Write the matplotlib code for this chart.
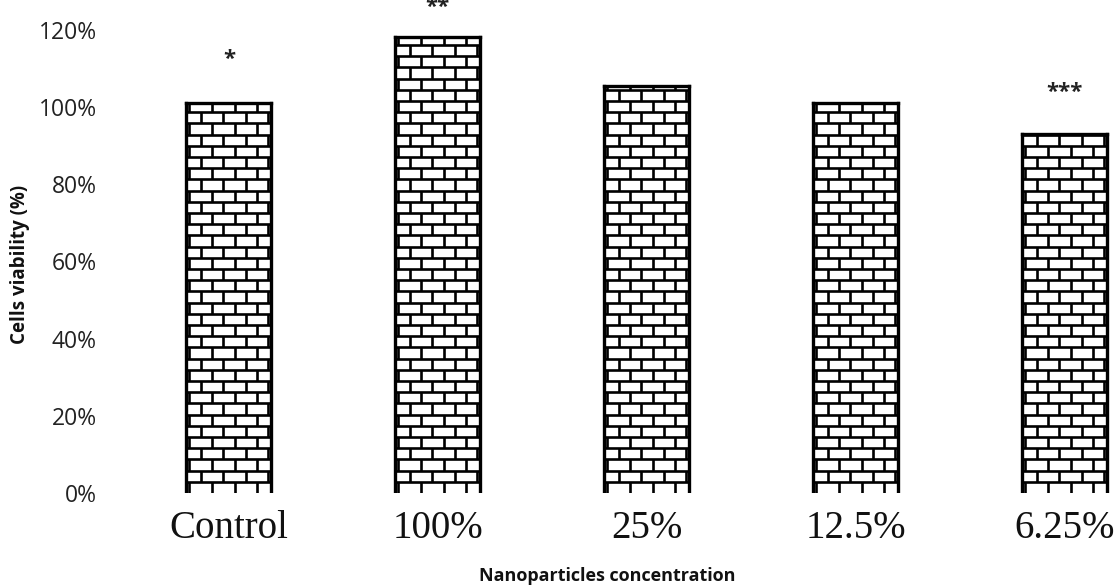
import numpy as np
import matplotlib.pyplot as plt
from matplotlib.collections import LineCollection
from matplotlib.ticker import PercentFormatter

# %% data
groups = ['Control', '100%', '25%', '12.5%', '6.25%']
viability = [101, 118, 105.5, 101, 93]
stars = ['*', '**', '', '', '***']
star_level = [113, 126.5, 0, 0, 104.5]

# %% figure
W, H = 1118, 587
fig = plt.figure(figsize=(W / 100, H / 100), dpi=100)
ax = fig.add_axes([110 / W, 94 / H, 1008 / W, 493 / H])
ax.set_xlim(-0.569, 4.254)
ax.set_ylim(0, 127.7)

x = np.arange(len(groups))
bw = 0.407
bars = ax.bar(x, viability, width=bw, color='white', edgecolor='none')

# brick pattern, sizes in pixels converted to data units
px_x = 4.823 / 1008
px_y = 127.7 / 493
brick_w, brick_h = 22.6 * px_x, 11.2 * px_y
for b in bars:
    x0, x1 = b.get_x(), b.get_x() + b.get_width()
    top = b.get_height()
    segs = []
    k = 0
    while k * brick_h < top:
        y0 = k * brick_h
        y1 = min(y0 + brick_h, top)
        if k > 0:
            segs.append([(x0, y0), (x1, y0)])
        off = 3 * px_x + (brick_w / 2 if k % 2 else 0)
        xv = x0 + off
        while xv < x1:
            segs.append([(xv, y0), (xv, y1)])
            xv += brick_w
        k += 1
    lc = LineCollection(segs, colors='black', linewidths=1.9)
    lc.set_clip_path(b)
    ax.add_collection(lc)
    edges = [[(x0, 0), (x0, top)], [(x1, 0), (x1, top)], [(x0, top), (x1, top)]]
    ax.add_collection(LineCollection(edges, colors='black', linewidths=2.4, capstyle='projecting'))

# asterisk glyph centre sits ~3.5 units above the text box bottom
for xi, lvl, s in zip(x, star_level, stars):
    if s:
        ax.text(xi, lvl - 3.5, s, ha='center', va='bottom', fontsize=16, fontweight='bold',
                family='Open Sans', color='#222222', clip_on=False)

for s in ax.spines.values():
    s.set_visible(False)
ax.tick_params(length=0)
ax.set_yticks(np.arange(0, 121, 20))
ax.yaxis.set_major_formatter(PercentFormatter(decimals=0))
ax.tick_params(axis='y', pad=9.4, labelsize=16.5, labelcolor='#222222')
for t in ax.get_yticklabels():
    t.set_family('Open Sans')
ax.set_xticks(x)
ax.set_xticklabels(groups, family='Liberation Serif', fontsize=28, color='#111111')
ax.tick_params(axis='x', pad=12)

fig.text(607 / W, 1 - 576 / H, 'Nanoparticles concentration', ha='center', va='center',
         family='Open Sans', fontweight='bold', fontsize=13, color='#111111')
fig.text(20 / W, 1 - 264 / H, 'Cells viability (%)', ha='center', va='center', rotation=90,
         family='Open Sans', fontweight='bold', fontsize=13.5, color='#111111')

plt.savefig('out.png', dpi=100)
